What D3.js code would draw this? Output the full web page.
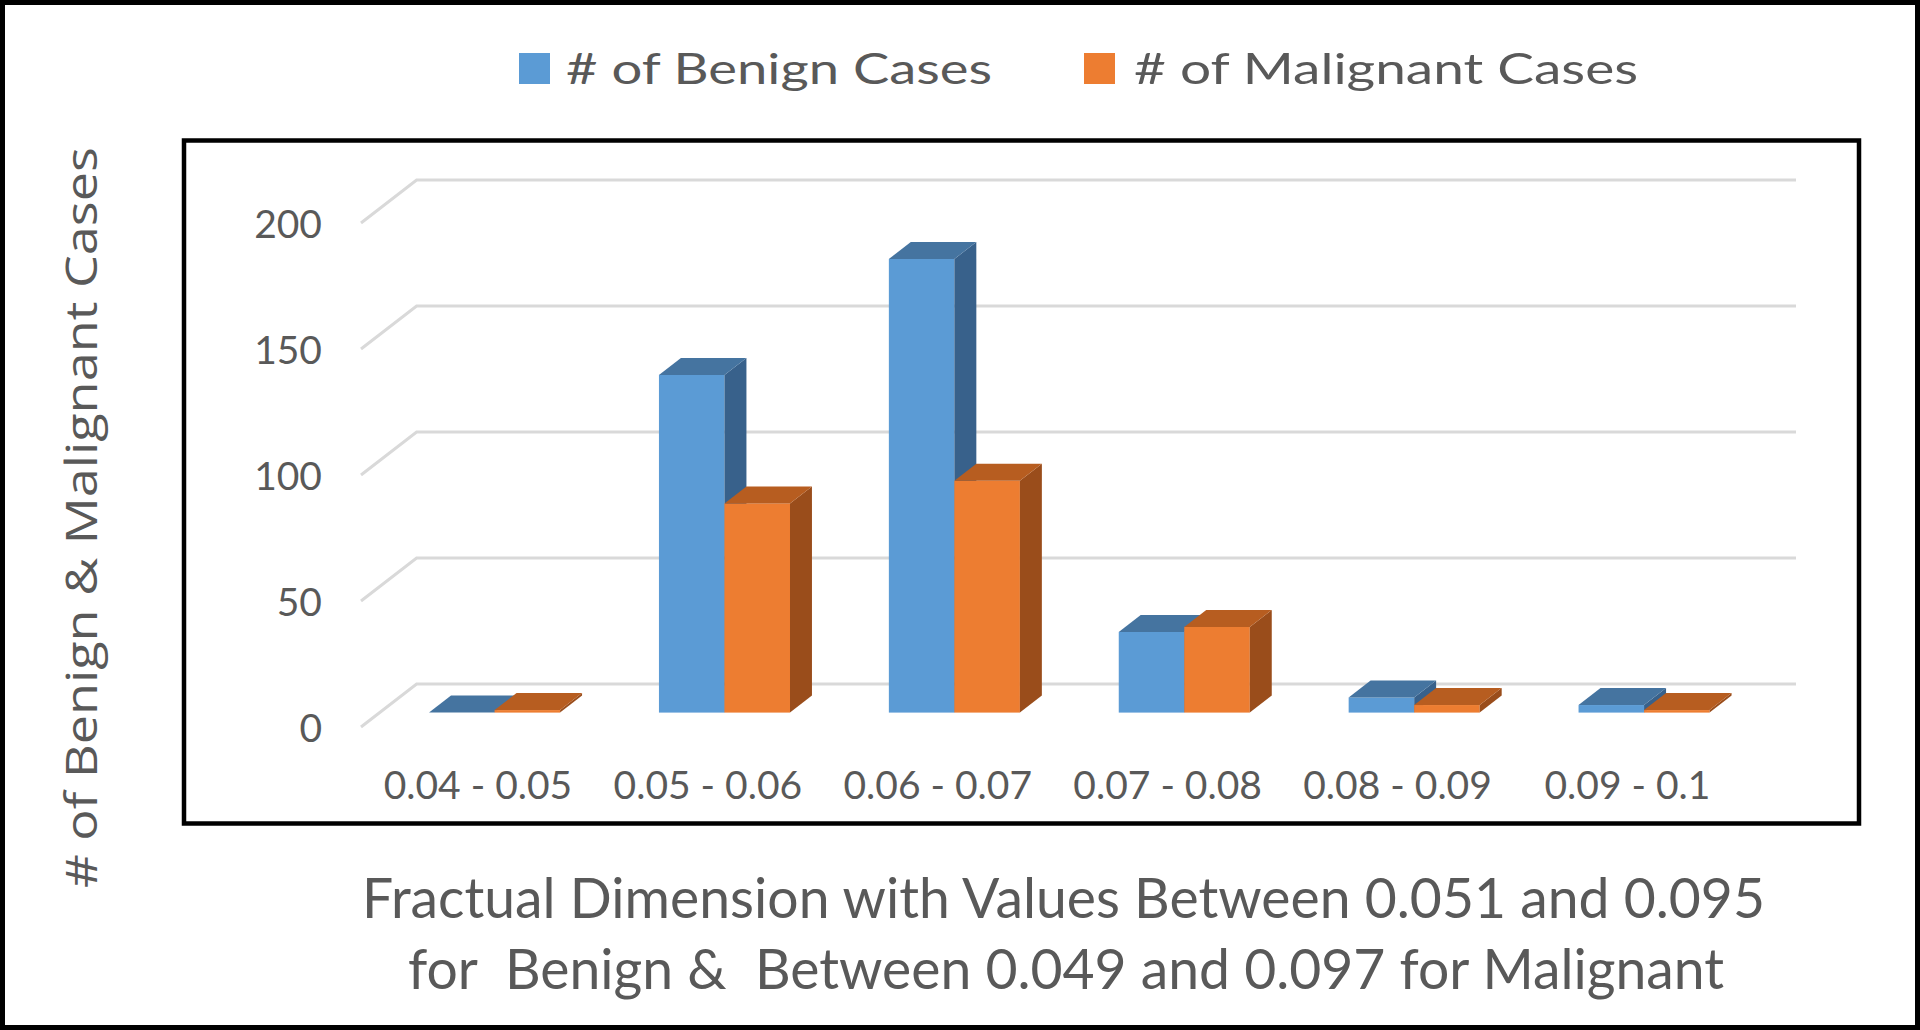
<!DOCTYPE html>
<html>
<head>
<meta charset="utf-8">
<script src="https://cdn.jsdelivr.net/npm/d3@7"></script>
<style>
  html, body { margin: 0; padding: 0; background: #fff; }
  svg { display: block; }
</style>
</head>
<body>
<svg id="chart" width="1920" height="1030"></svg>
<script>
// ---- data ----
const categories = ["0.04 - 0.05", "0.05 - 0.06", "0.06 - 0.07", "0.07 - 0.08", "0.08 - 0.09", "0.09 - 0.1"];
const benign = [0, 134, 180, 32, 6, 3];
const malignant = [1, 83, 92, 34, 3, 1];
const seriesNames = ["# of Benign Cases", "# of Malignant Cases"];
const yTicks = [0, 50, 100, 150, 200];
const xTitleLines = ["Fractual Dimension with Values Between 0.051 and 0.095", "for  Benign &  Between 0.049 and 0.097 for Malignant"];
const yTitle = "# of Benign & Malignant Cases";

// ---- styles ----
const colors = {
  front: ["#5B9BD5", "#ED7D31"],
  top:   ["#4574A0", "#B75D20"],
  side:  ["#38618B", "#9A4D1B"]
};
const textColor = "#595959";
const gridColor = "#D9D9D9";

const svg = d3.select("#chart");

// outer border
svg.append("rect").attr("x", 2.5).attr("y", 2.5).attr("width", 1915).attr("height", 1025)
  .attr("fill", "#fff").attr("stroke", "#000").attr("stroke-width", 5);

// plot frame
svg.append("rect").attr("x", 184).attr("y", 140.5).attr("width", 1675).attr("height", 683)
  .attr("fill", "none").attr("stroke", "#000").attr("stroke-width", 4.5);

// 3D geometry (back wall plane + oblique depth vector)
const depth = { dx: -55.6, dy: 43 };   // back -> front
const barFront = 0.665, barBack = 0.27; // depth fractions of bars
const x = d3.scaleBand().domain(categories).range([416.6, 1796]);
const y = d3.scaleLinear().domain([0, 200]).range([684, 180]);
const barHalf = 0.57 / 2; // fraction of band occupied by the bar pair

// gridlines (back wall + left wall diagonals)
const grid = svg.append("g");
yTicks.forEach(v => {
  const yy = y(v);
  grid.append("path")
    .attr("d", `M${x.range()[0] + depth.dx},${yy + depth.dy}L${x.range()[0]},${yy}L${x.range()[1]},${yy}`)
    .attr("fill", "none").attr("stroke", gridColor).attr("stroke-width", 3);
});

// bars
const fdx = depth.dx * barFront, fdy = depth.dy * barFront;
const ddx = -depth.dx * (barFront - barBack), ddy = depth.dy * (barFront - barBack); // front -> back of bar
const inner = d3.scaleBand().domain([0, 1]).range([-barHalf, barHalf]);
const barsG = svg.append("g");
categories.forEach((c, i) => {
  [benign[i], malignant[i]].forEach((v, s) => {
    const bw = x.bandwidth() * inner.bandwidth();
    const x0 = x(c) + x.bandwidth() / 2 + x.bandwidth() * inner(s) + fdx;
    const yb = y(0) + fdy, yt = y(v) + fdy;
    const g = barsG.append("g");
    // front
    g.append("rect").attr("x", x0).attr("y", yt).attr("width", bw).attr("height", yb - yt)
      .attr("fill", colors.front[s]);
    // side
    g.append("path")
      .attr("d", `M${x0 + bw},${yt}L${x0 + bw + ddx},${yt - ddy}L${x0 + bw + ddx},${yb - ddy}L${x0 + bw},${yb}Z`)
      .attr("fill", colors.side[s]);
    // top
    g.append("path")
      .attr("d", `M${x0},${yt}L${x0 + bw},${yt}L${x0 + bw + ddx},${yt - ddy}L${x0 + ddx},${yt - ddy}Z`)
      .attr("fill", colors.top[s]);
  });
});

// y axis labels (front plane)
const yAxisG = svg.append("g").attr("transform", `translate(322,${depth.dy})`)
  .call(d3.axisLeft(y).tickValues(yTicks).tickSize(0).tickPadding(0));
yAxisG.select(".domain").remove();
yAxisG.selectAll("text").attr("fill", textColor).attr("dy", "0.36em")
  .style("font-family", "Lato").style("font-size", "39px");

// x axis labels (front plane)
const xAxisG = svg.append("g").attr("transform", `translate(${depth.dx + 2},784.5)`)
  .call(d3.axisBottom(x).tickSize(0).tickPadding(0));
xAxisG.select(".domain").remove();
xAxisG.selectAll("text").attr("fill", textColor).attr("y", 0).attr("dy", "0.36em")
  .style("font-family", "Lato").style("font-size", "39px");

// legend
const legend = [
  { sx: 519, tx: 566, w: 426 },
  { sx: 1084, tx: 1134, w: 504 }
];
legend.forEach((L, s) => {
  svg.append("rect").attr("x", L.sx).attr("y", 53).attr("width", 31).attr("height", 31)
    .attr("fill", colors.front[s]);
  svg.append("text").attr("x", L.tx).attr("y", 84)
    .attr("textLength", L.w).attr("lengthAdjust", "spacingAndGlyphs")
    .attr("fill", textColor).style("font-family", "Lato").style("font-size", "42px")
    .text(seriesNames[s]);
});

// x title
const xt = [ { cx: 1063.5, y: 918, w: 1403 }, { cx: 1066, y: 989, w: 1316 } ];
xTitleLines.forEach((t, k) => {
  svg.append("text").attr("x", xt[k].cx).attr("y", xt[k].y).attr("text-anchor", "middle")
    .attr("textLength", xt[k].w).attr("lengthAdjust", "spacingAndGlyphs")
    .attr("fill", textColor).style("font-family", "Lato").style("font-size", "57px")
    .style("white-space", "pre")
    .text(t);
});

// y title
svg.append("text").attr("transform", "translate(81.5,517.5) rotate(-90)")
  .attr("text-anchor", "middle").attr("dy", "0.35em")
  .attr("textLength", 741).attr("lengthAdjust", "spacingAndGlyphs")
  .attr("fill", textColor).style("font-family", "Open Sans").style("font-size", "44px")
  .text(yTitle);
</script>
</body>
</html>
